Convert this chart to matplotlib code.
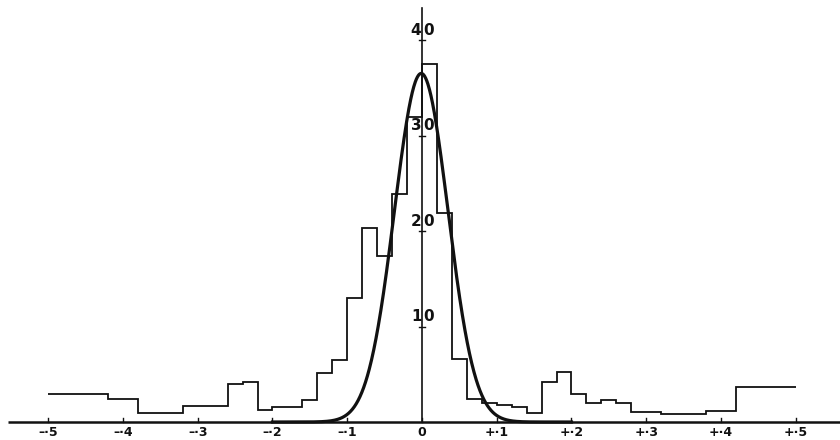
import numpy as np
import matplotlib
matplotlib.use("Agg")
import matplotlib.pyplot as plt

# Histogram bin edges (x) and frequencies
bin_edges = [-0.50, -0.42, -0.38, -0.32, -0.26, -0.24, -0.22, -0.20, -0.16, -0.14,
             -0.12, -0.10, -0.08, -0.06, -0.04, -0.02, 0.00, 0.02, 0.04, 0.06,
             0.08, 0.10, 0.12, 0.14, 0.16, 0.18, 0.20, 0.22, 0.24, 0.26,
             0.28, 0.32, 0.38, 0.42, 0.50]
frequencies = [2.95, 2.4, 0.9, 1.7, 3.95, 4.2, 1.25, 1.6, 2.3,
               5.1, 6.5, 13.0, 20.3, 17.4, 23.9, 31.9, 37.5, 21.9, 6.6,
               2.4, 1.95, 1.8, 1.6, 0.95, 4.15, 5.2, 2.95, 1.95, 2.3,
               1.95, 1.0, 0.8, 1.15, 3.7]

# Normal curve parameters
curve_peak = 36.5
curve_mean = -0.001
curve_sigma = 0.0358

x_ticks = [-0.5, -0.4, -0.3, -0.2, -0.1, 0.0, 0.1, 0.2, 0.3, 0.4, 0.5]
x_tick_labels = ["–·5", "–·4", "–·3", "–·2", "–·1", "0",
                 "+·1", "+·2", "+·3", "+·4", "+·5"]
y_ticks = [10, 20, 30, 40]

ink = "#111111"

fig = plt.figure(figsize=(8.4, 4.4), dpi=100)
ax = fig.add_axes([0, 0, 1, 1])
ax.set_xlim(-0.5645, 0.5592)
ax.set_ylim(-1.885, 44.19)
ax.axis("off")

# baseline
ax.plot([-0.554, 0.5592], [0, 0], color=ink, lw=1.8, solid_capstyle="butt")

# vertical axis
ax.plot([0, 0], [0, 43.3], color=ink, lw=1.2)
for yt in y_ticks:
    ax.plot([-0.004, 0.004], [yt, yt], color=ink, lw=1.0)
    s = str(yt)
    ax.text(-0.0008, yt + 1.0, s[0], ha="right", va="center",
            fontsize=11, fontweight="bold", color=ink)
    ax.text(0.0016, yt + 1.0, s[1:], ha="left", va="center",
            fontsize=11, fontweight="bold", color=ink)

# x ticks and labels
for xt, lab in zip(x_ticks, x_tick_labels):
    ax.plot([xt, xt], [0, 0.4], color=ink, lw=1.0)
    ax.text(xt, -1.05, lab, ha="center", va="center", fontsize=9,
            fontweight="bold", color=ink)

# histogram outline
ax.stairs(frequencies, bin_edges, baseline=None, color=ink, lw=1.3)

# normal curve
xc = np.linspace(-0.2, 0.2, 801)
yc = curve_peak * np.exp(-0.5 * ((xc - curve_mean) / curve_sigma) ** 2)
ax.plot(xc, yc, color=ink, lw=2.3)

fig.savefig("out.png", dpi=100, facecolor="white")
